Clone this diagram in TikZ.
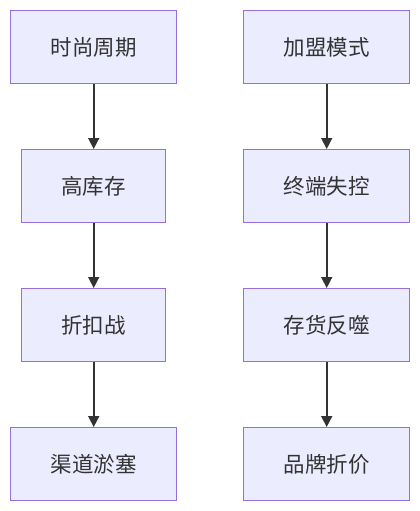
\documentclass[tikz,border=0pt]{standalone}
\usepackage{fontspec}
\setmainfont{Noto Sans CJK SC}
\usetikzlibrary{arrows.meta}
\definecolor{boxfill}{HTML}{ECECFF}
\definecolor{boxline}{HTML}{9370DB}
\definecolor{ink}{HTML}{333333}
\begin{document}
\begin{tikzpicture}[x=1pt,y=-1pt,
  box/.style={draw=boxline,fill=boxfill,line width=1.4pt,inner sep=0pt,
    text=ink,font=\fontsize{21.5}{25}\selectfont,anchor=north west},
  flow/.style={draw=ink,line width=1.6pt,-{Triangle[length=11pt,width=11pt]}}]
\useasboundingbox (0,0) rectangle (420,511);
\fill[white] (0,0) rectangle (420,511);
% left column
\node[box,minimum width=166pt,minimum height=73pt] (a1) at (10,10) {时尚周期};
\node[box,minimum width=144pt,minimum height=73pt] (a2) at (21,149) {高库存};
\node[box,minimum width=144pt,minimum height=73pt] (a3) at (21,288) {折扣战};
\node[box,minimum width=166pt,minimum height=73pt] (a4) at (10,427) {渠道淤塞};
% right column
\node[box,minimum width=166pt,minimum height=73pt] (b1) at (243,10) {加盟模式};
\node[box,minimum width=166pt,minimum height=73pt] (b2) at (243,149) {终端失控};
\node[box,minimum width=166pt,minimum height=73pt] (b3) at (243,288) {存货反噬};
\node[box,minimum width=166pt,minimum height=73pt] (b4) at (243,427) {品牌折价};
\draw[flow] (a1.south) -- (a2.north);
\draw[flow] (a2.south) -- (a3.north);
\draw[flow] (a3.south) -- (a4.north);
\draw[flow] (b1.south) -- (b2.north);
\draw[flow] (b2.south) -- (b3.north);
\draw[flow] (b3.south) -- (b4.north);
\end{tikzpicture}
\end{document}
